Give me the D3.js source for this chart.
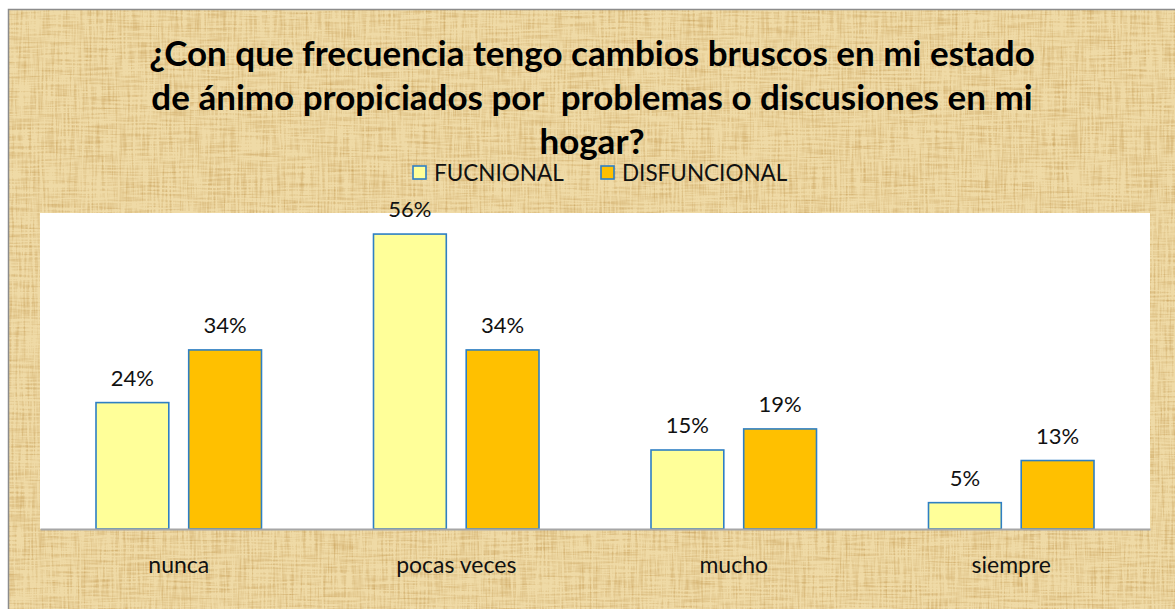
<!DOCTYPE html>
<html><head><meta charset="utf-8">
<script src="https://cdn.jsdelivr.net/npm/d3@7"></script>
<style>body{margin:0;background:#fff}svg{display:block}</style>
</head><body>
<script>
const categories = ["nunca", "pocas veces", "mucho", "siempre"];
const seriesNames = ["FUCNIONAL", "DISFUNCIONAL"];
const funcional = [24, 56, 15, 5];
const disfuncional = [34, 34, 19, 13];
const titleLines = ["¿Con que frecuencia tengo cambios bruscos en mi estado", "de ánimo propiciados por  problemas o discusiones en mi", "hogar?"];
const colors = ["#FFFF99", "#FFC000"];

const W = 1175, H = 609;
const svg = d3.select("body").append("svg").attr("width", W).attr("height", H);
const defs = svg.append("defs");
const f = defs.append("filter").attr("id", "papyrus").attr("x", 0).attr("y", 0).attr("width", "100%").attr("height", "100%")
  .attr("color-interpolation-filters", "sRGB");
f.append("feTurbulence").attr("type", "fractalNoise").attr("baseFrequency", "0.5 0.025").attr("numOctaves", 3).attr("seed", 3).attr("result", "n1");
f.append("feTurbulence").attr("type", "fractalNoise").attr("baseFrequency", "0.025 0.5").attr("numOctaves", 3).attr("seed", 7).attr("result", "n2");
f.append("feComposite").attr("in", "n1").attr("in2", "n2").attr("operator", "arithmetic").attr("k2", 0.5).attr("k3", 0.5).attr("result", "n");
f.append("feColorMatrix").attr("in", "n").attr("type", "matrix")
  .attr("values", "0 0 0 0 0.80  0 0 0 0 0.65  0 0 0 0 0.38  2.2 0 0 0 -0.95").attr("result", "tex");
f.append("feFlood").attr("flood-color", "#efdaa6").attr("result", "base");
f.append("feComposite").attr("in", "tex").attr("in2", "base").attr("operator", "over").attr("result", "mix");
f.append("feComposite").attr("in", "mix").attr("in2", "SourceGraphic").attr("operator", "in");

// background frame
svg.append("rect").attr("x", 8).attr("y", 9).attr("width", W - 8).attr("height", H - 9)
  .attr("fill", "#ecd59f").attr("filter", "url(#papyrus)");
svg.append("path").attr("d", `M8.5,${H} V9.5 H${W}`).attr("fill", "none").attr("stroke", "#8c8c8c").attr("stroke-width", 1.5);

const plot = {x0: 40, x1: 1150, y0: 213, y1: 529};
svg.append("rect").attr("x", plot.x0).attr("y", plot.y0).attr("width", plot.x1 - plot.x0).attr("height", plot.y1 - plot.y0).attr("fill", "#fff");

const x = d3.scaleBand().domain(categories).range([plot.x0, plot.x1]).paddingInner(0.4).paddingOuter(0.2);
const xs = d3.scaleBand().domain(seriesNames).range([0, x.bandwidth()]).paddingInner(0.204);
const y = d3.scaleLinear().domain([0, 60]).range([plot.y1, plot.y0]);

const font = "Lato, 'Open Sans', sans-serif";
const data = [funcional, disfuncional];
seriesNames.forEach((s, si) => {
  const g = svg.append("g");
  g.selectAll("rect").data(categories).join("rect")
    .attr("x", (c) => x(c) + xs(s) + 0.5)
    .attr("y", (c, i) => y(data[si][i]))
    .attr("width", xs.bandwidth() - 1)
    .attr("height", (c, i) => plot.y1 - y(data[si][i]))
    .attr("fill", colors[si]).attr("stroke", "#2e7fc4").attr("stroke-width", 1.6);
  g.selectAll("text").data(categories).join("text")
    .attr("x", (c) => x(c) + xs(s) + xs.bandwidth() / 2)
    .attr("y", (c, i) => y(data[si][i]) - 17)
    .attr("text-anchor", "middle").attr("font-family", font).attr("font-size", 22).attr("fill", "#111")
    .text((c, i) => data[si][i] + "%");
});

// axis line
const xAxis = d3.axisBottom(x).tickSize(0).tickPadding(28);
const ax = svg.append("g").attr("transform", `translate(0,${plot.y1})`).call(xAxis);
ax.select(".domain").attr("stroke", "#a6a6a6").attr("stroke-width", 2);
ax.selectAll("text").attr("font-family", font).attr("font-size", 23).attr("fill", "#111");

// title
svg.append("text").attr("x", 592).attr("y", 66).attr("text-anchor", "middle")
  .attr("font-family", font).attr("font-weight", "bold").attr("font-size", 35).attr("fill", "#000")
  .style("white-space", "pre")
  .selectAll("tspan").data(titleLines).join("tspan")
  .attr("x", 592).attr("dy", (d, i) => i === 0 ? 0 : 44).text(d => d);

// legend
const legX = [413, 601];
seriesNames.forEach((s, i) => {
  svg.append("rect").attr("x", legX[i]).attr("y", 166).attr("width", 13).attr("height", 13)
    .attr("fill", colors[i]).attr("stroke", "#2e7fc4").attr("stroke-width", 1.6);
  svg.append("text").attr("x", legX[i] + 21).attr("y", 181).attr("font-family", font).attr("font-size", 22.5).attr("fill", "#111").text(s);
});
</script>
</body></html>
